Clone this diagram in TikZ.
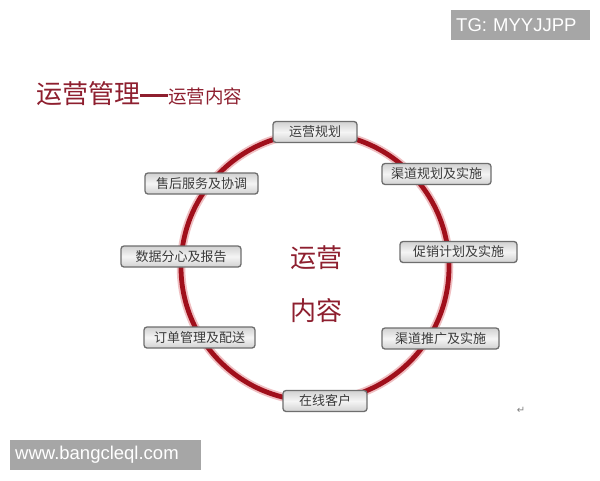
\documentclass[tikz,border=0pt]{standalone}
\usepackage{fontspec}
\newfontfamily\cjk{Noto Sans CJK SC}
\newfontfamily\lat{Liberation Sans}
\newfontfamily\sym{DejaVu Sans}
\definecolor{ringred}{HTML}{A00F1B}
\definecolor{glowred}{HTML}{F0BFC2}
\definecolor{titlered}{HTML}{8E1F2F}
\definecolor{boxline}{HTML}{6E6E6E}
\definecolor{boxtext}{HTML}{3A3A3A}
\definecolor{wmgray}{HTML}{A6A6A6}
\begin{document}
\begin{tikzpicture}[x=1pt,y=-1pt,
  stepbox/.style={draw=boxline, line width=1.3pt, rounded corners=3pt,
    shading=axis, top color=black!18, bottom color=black!18, middle color=black!4,
    minimum height=21pt, inner xsep=4pt, inner ysep=0pt,
    font=\cjk\fontsize{13}{13}\selectfont, text=boxtext},
  wmbox/.style={fill=wmgray, text=white, inner xsep=5pt, inner ysep=0pt,
    minimum height=30pt, align=left, anchor=north west,
    font=\lat\fontsize{18.5}{18.5}\selectfont},
  ring/.style={draw=ringred, line width=4.8pt},
  ringglow/.style={draw=glowred, line width=8.5pt}]
\useasboundingbox[fill=white] (0,0) rectangle (600,480);

% ring
\coordinate (c) at (315,267);
\draw[ringglow] (c) circle (134);
\draw[ring] (c) circle (134);

% title
\node[anchor=west, inner sep=0pt, text=titlered] (title) at (36,94)
  {\cjk\fontsize{26}{26}\selectfont 运营管理\rule[0.27em]{28pt}{2.4pt}{\fontsize{18.5}{18.5}\selectfont 运营内容}};

% centre text
\node[text=titlered, font=\cjk\fontsize{26}{26}\selectfont] (mid1) at (316,258) {运营};
\node[text=titlered, font=\cjk\fontsize{26}{26}\selectfont] (mid2) at (316,311) {内容};

% boxes
\node[stepbox, minimum width=84pt]  (n1) at (315,132)   {运营规划};
\node[stepbox, minimum width=109pt] (n2) at (436.5,174) {渠道规划及实施};
\node[stepbox, minimum width=117pt] (n3) at (458.5,252) {促销计划及实施};
\node[stepbox, minimum width=117pt] (n4) at (440.5,338.5) {渠道推广及实施};
\node[stepbox, minimum width=84pt]  (n5) at (325,401)   {在线客户};
\node[stepbox, minimum width=111pt] (n6) at (199.5,337.5) {订单管理及配送};
\node[stepbox, minimum width=120pt] (n7) at (181,256.5) {数据分心及报告};
\node[stepbox, minimum width=113pt] (n8) at (201.5,183.5) {售后服务及协调};

% small return mark
\node[text=black!50, font=\sym\fontsize{10}{10}\selectfont, inner sep=0pt] (ret) at (521,410) {↵};

% watermarks
\node[wmbox, text width=129pt] (tg) at (451,10) {TG: MYYJJPP};
\node[wmbox, text width=181pt] (www) at (10,440) {www.bangcleql.com};
\end{tikzpicture}
\end{document}
